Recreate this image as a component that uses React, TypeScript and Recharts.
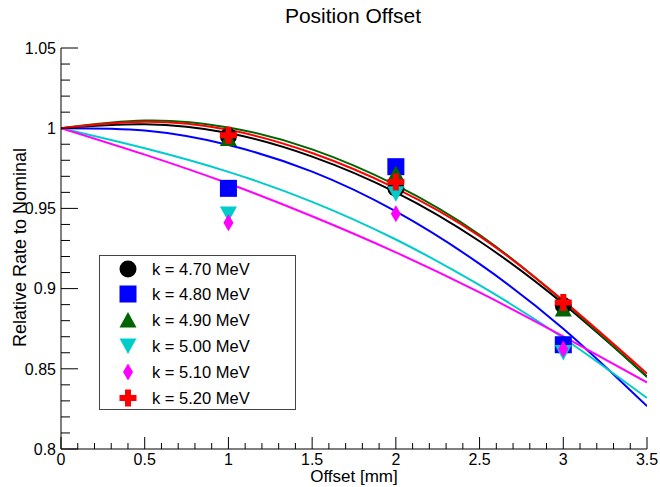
import React from 'react';
import { ComposedChart, Line, Scatter, XAxis, YAxis, Legend } from 'recharts';

// ---------- data ----------
const offsets = [1, 2, 3];
const curveX = [0, 0.5, 1, 1.5, 2, 2.5, 3, 3.5];

const names = ['k = 4.70 MeV', 'k = 4.80 MeV', 'k = 4.90 MeV', 'k = 5.00 MeV', 'k = 5.10 MeV', 'k = 5.20 MeV'];

const pts470 = [0.995, 0.9625, 0.8895];
const pts480 = [0.9625, 0.976, 0.865];
const pts490 = [0.9936, 0.9717, 0.8873];
const pts500 = [0.9465, 0.9592, 0.8602];
const pts510 = [0.941, 0.9467, 0.8623];
const pts520 = [0.9956, 0.9664, 0.8914];

const fit470 = [1, 1.0025, 0.997, 0.9823, 0.96, 0.9295, 0.8905, 0.8452];
const fit480 = [1, 0.9985, 0.9895, 0.9729, 0.9481, 0.9154, 0.875, 0.8267];
const fit490 = [1, 1.0048, 1.0005, 0.9868, 0.9645, 0.9336, 0.892, 0.8448];
const fit500 = [1, 0.9875, 0.9728, 0.9541, 0.9306, 0.9021, 0.8692, 0.8318];
const fit510 = [1, 0.9835, 0.9655, 0.9451, 0.9226, 0.8976, 0.8702, 0.8415];
const fit520 = [1, 1.004, 0.999, 0.9845, 0.9625, 0.9327, 0.8925, 0.847];

const yTicks = [0.8, 0.81, 0.82, 0.83, 0.84, 0.85, 0.86, 0.87, 0.88, 0.89, 0.9, 0.91, 0.92, 0.93, 0.94, 0.95, 0.96, 0.97, 0.98, 0.99, 1, 1.01, 1.02, 1.03, 1.04, 1.05];
const yMajorLabels = ['0.8', '0.85', '0.9', '0.95', '1', '1.05'];
const xTicks = [0, 0.1, 0.2, 0.3, 0.4, 0.5, 0.6, 0.7, 0.8, 0.9, 1, 1.1, 1.2, 1.3, 1.4, 1.5, 1.6, 1.7, 1.8, 1.9, 2, 2.1, 2.2, 2.3, 2.4, 2.5, 2.6, 2.7, 2.8, 2.9, 3, 3.1, 3.2, 3.3, 3.4, 3.5];
const xMajorLabels = ['0', '0.5', '1', '1.5', '2', '2.5', '3', '3.5'];

// ---------- styling ----------
const FONT = '"Liberation Sans", Arial, Helvetica, sans-serif';
const W = 660;
const H = 487;
const MARGIN = { top: 48, right: 13, left: 0, bottom: 0 };
const Y_AXIS_W = 61;
const X_AXIS_H = 38;
const PLOT_LEFT = MARGIN.left + Y_AXIS_W;
const PLOT_BOTTOM = H - MARGIN.bottom - X_AXIS_H;

type Kind = 'circle' | 'square' | 'triUp' | 'triDown' | 'diamond' | 'cross';

const series: { name: string; color: string; kind: Kind; pts: number[]; fit: number[] }[] = [
  { name: names[0], color: '#000000', kind: 'circle', pts: pts470, fit: fit470 },
  { name: names[1], color: '#0000ff', kind: 'square', pts: pts480, fit: fit480 },
  { name: names[2], color: '#006400', kind: 'triUp', pts: pts490, fit: fit490 },
  { name: names[3], color: '#00cccc', kind: 'triDown', pts: pts500, fit: fit500 },
  { name: names[4], color: '#ff00ff', kind: 'diamond', pts: pts510, fit: fit510 },
  { name: names[5], color: '#ff0000', kind: 'cross', pts: pts520, fit: fit520 },
];

function Marker({ kind, cx, cy, color }: { kind: Kind; cx: number; cy: number; color: string }) {
  const s = 8.5;
  switch (kind) {
    case 'circle':
      return <circle cx={cx} cy={cy} r={s} fill={color} />;
    case 'square':
      return <rect x={cx - s} y={cy - s} width={2 * s} height={2 * s} fill={color} />;
    case 'triUp':
      return <polygon points={`${cx},${cy - 8} ${cx + s},${cy + 7.5} ${cx - s},${cy + 7.5}`} fill={color} />;
    case 'triDown':
      return <polygon points={`${cx},${cy + 8} ${cx + s},${cy - 7.5} ${cx - s},${cy - 7.5}`} fill={color} />;
    case 'diamond':
      return <polygon points={`${cx},${cy - s} ${cx + 5},${cy} ${cx},${cy + s} ${cx - 5},${cy}`} fill={color} />;
    case 'cross': {
      const a = 3;
      return (
        <path
          d={`M${cx - a},${cy - s} H${cx + a} V${cy - a} H${cx + s} V${cy + a} H${cx + a} V${cy + s} H${cx - a} V${cy + a} H${cx - s} V${cy - a} H${cx - a} Z`}
          fill={color}
        />
      );
    }
  }
  return null;
}

const fmt = (v: number) => String(Number(v.toFixed(2)));

const YTick = (props: any) => {
  const { y, payload } = props;
  const v: number = payload.value;
  const label = fmt(v);
  const major = yMajorLabels.includes(label);
  return (
    <g>
      <line x1={PLOT_LEFT} x2={PLOT_LEFT + (major ? 17 : 9)} y1={y} y2={y} stroke="#000" strokeWidth={1} />
      {major && (
        <text x={PLOT_LEFT - 5} y={y} dy="0.36em" textAnchor="end" fontFamily={FONT} fontSize={16} fill="#000">
          {label}
        </text>
      )}
    </g>
  );
};

const XTick = (props: any) => {
  const { x, payload } = props;
  const v: number = payload.value;
  const label = fmt(v);
  const major = xMajorLabels.includes(label);
  return (
    <g>
      <line x1={x} x2={x} y1={PLOT_BOTTOM} y2={PLOT_BOTTOM - (major ? 12 : 6)} stroke="#000" strokeWidth={1} />
      {major && (
        <text x={x} y={PLOT_BOTTOM + 16} textAnchor="middle" fontFamily={FONT} fontSize={16} fill="#000">
          {label}
        </text>
      )}
    </g>
  );
};

const LegendBox = () => (
  <div
    style={{
      width: 197,
      height: 155,
      border: '1px solid #444',
      boxSizing: 'border-box',
      background: '#fff',
      position: 'relative',
      fontFamily: FONT,
      fontSize: 16.5,
      color: '#000',
    }}
  >
    {series.map((s, i) => (
      <div key={s.name} style={{ position: 'absolute', left: 0, top: 12.5 + i * 25.8, height: 0 }}>
        <svg width={40} height={24} style={{ position: 'absolute', left: 8, top: -12 }}>
          <Marker kind={s.kind} cx={20} cy={12} color={s.color} />
        </svg>
        <span style={{ position: 'absolute', left: 52, top: -10, whiteSpace: 'nowrap', lineHeight: '20px' }}>
          {s.name}
        </span>
      </div>
    ))}
  </div>
);

export default function App() {
  return (
    <div style={{ position: 'absolute', left: 0, top: 0, width: W, height: H, background: '#fff' }}>
      <ComposedChart width={W} height={H} margin={MARGIN}>
        <XAxis
          dataKey="x"
          type="number"
          domain={[0, 3.5]}
          ticks={xTicks}
          interval={0}
          tickLine={false}
          tick={<XTick />}
          axisLine={{ stroke: '#000', strokeWidth: 1 }}
          height={X_AXIS_H}
          allowDataOverflow
          label={{
            content: (p: any) => {
              const vb = p.viewBox || { x: PLOT_LEFT, y: PLOT_BOTTOM, width: 586 };
              return (
                <text x={vb.x + vb.width / 2} y={PLOT_BOTTOM + 33} textAnchor="middle" fontFamily={FONT} fontSize={17} fill="#000">
                  Offset [mm]
                </text>
              );
            },
          }}
        />
        <XAxis xAxisId="top" orientation="top" type="number" domain={[0, 3.5]} tick={false} tickLine={false} height={0} axisLine={{ stroke: '#000' }} />
        <YAxis
          type="number"
          domain={[0.8, 1.05]}
          ticks={yTicks}
          interval={0}
          tickLine={false}
          tick={<YTick />}
          axisLine={{ stroke: '#000', strokeWidth: 1 }}
          width={Y_AXIS_W}
          allowDataOverflow
          label={{
            content: () => (
              <text x={26} y={247.5} transform="rotate(-90 26 247.5)" textAnchor="middle" fontFamily={FONT} fontSize={18} fill="#000">
                Relative Rate to Nominal
              </text>
            ),
          }}
        />
        <YAxis yAxisId="right" orientation="right" type="number" domain={[0.8, 1.05]} tick={false} tickLine={false} width={0} axisLine={{ stroke: '#000' }} />
        {series.map((s) => (
          <Line
            key={'fit' + s.name}
            data={curveX.map((x, i) => ({ x, y: s.fit[i] }))}
            dataKey="y"
            type="natural"
            stroke={s.color}
            strokeWidth={2}
            dot={false}
            activeDot={false}
            legendType="none"
            isAnimationActive={false}
          />
        ))}
        {series.map((s) => (
          <Scatter
            key={'pts' + s.name}
            name={s.name}
            data={offsets.map((x, i) => ({ x, y: s.pts[i] }))}
            dataKey="y"
            fill={s.color}
            shape={(p: any) => <Marker kind={s.kind} cx={p.cx} cy={p.cy} color={s.color} />}
            isAnimationActive={false}
          />
        ))}
        <Legend
          layout="vertical"
          align="center"
          verticalAlign="middle"
          content={() => <LegendBox />}
          wrapperStyle={{ left: 99, top: 255, width: 197, height: 155 }}
        />
      </ComposedChart>
      <svg width={W} height={40} style={{ position: 'absolute', left: 0, top: 0 }}>
        <text x={353} y={23} textAnchor="middle" fontFamily={FONT} fontSize={21} fill="#000">
          Position Offset
        </text>
      </svg>
    </div>
  );
}
